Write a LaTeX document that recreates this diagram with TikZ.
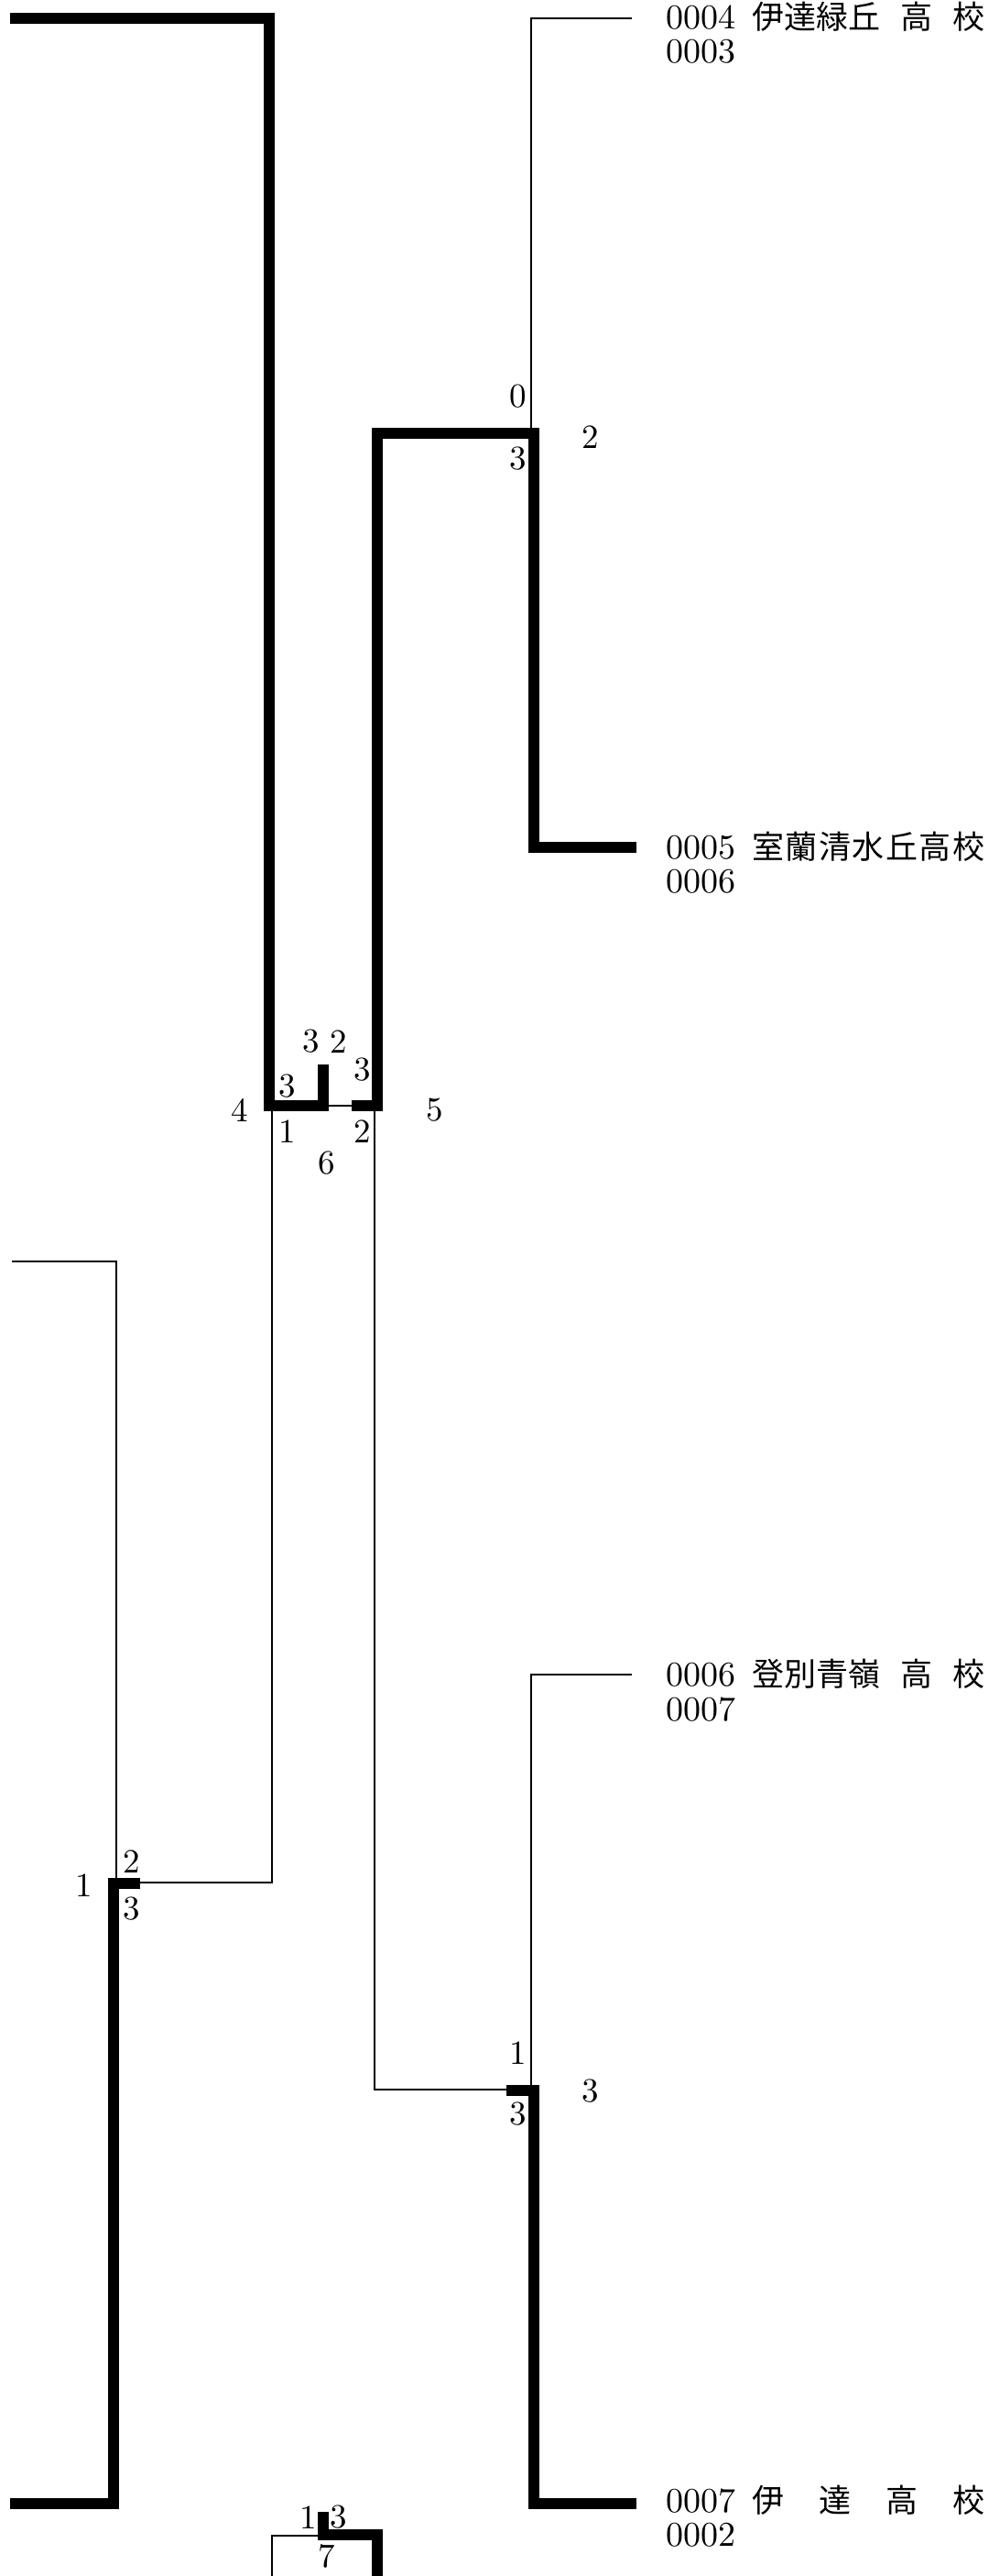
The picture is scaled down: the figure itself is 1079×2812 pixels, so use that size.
\documentclass[tikz,border=0pt]{standalone}
\usepackage{fontspec}
\setmainfont{lmroman10-regular}[Extension=.otf]
\newfontfamily\cjk{Noto Sans CJK JP}
\begin{document}
\begin{tikzpicture}[x=1pt,y=-1pt,
  thickln/.style={line width=12pt,line cap=butt,line join=miter},
  thinln/.style={line width=2pt,line cap=butt,line join=miter},
  lbl/.style={inner sep=0pt,font=\fontsize{37}{39}\selectfont},
  numtxt/.style={inner sep=0pt,anchor=base west,font=\fontsize{38}{40}\selectfont},
  nametxt/.style={inner sep=0pt,anchor=base west,font=\fontsize{35}{37}\selectfont\cjk}]
\useasboundingbox (0,0) rectangle (1079,2812);
% top-left thick bracket
\draw[thickln] (11,20) -- (294,20) -- (294,1207) -- (353,1207) -- (353,1162);
\draw[thinln] (353,1207) -- (384,1207);
\draw[thickln] (384,1207) -- (412,1207) -- (412,473) -- (583,473) -- (583,925) -- (695,925);
\draw[thinln] (690,20) -- (580,20) -- (580,473);
% left middle
\draw[thinln] (13,1377) -- (127,1377) -- (127,2056);
\draw[thinln] (297,1207) -- (297,2055) -- (153,2055);
\draw[thickln] (153,2056) -- (124,2056) -- (124,2733) -- (11,2733);
% right lower
\draw[thinln] (690,1828) -- (580,1828) -- (580,2282);
\draw[thinln] (409,1207) -- (409,2281) -- (553,2281);
\draw[thickln] (553,2282) -- (583,2282) -- (583,2733) -- (695,2733);
% bottom
\draw[thickln] (353,2742) -- (353,2767) -- (412,2767) -- (412,2812);
\draw[thinln] (353,2768) -- (297,2768) -- (297,2812);
% team texts
\node[numtxt] (n1) at (727,32) {0004};
\node[nametxt] (t1) at (821,32) {\makebox[254pt][s]{伊達緑丘\hfill 高\hfill 校}};
\node[numtxt] (m1) at (727,69) {0003};
\node[numtxt] (n2) at (727,937) {0005};
\node[nametxt] (t2) at (821,937) {\makebox[254pt][s]{室\hfill 蘭\hfill 清\hfill 水\hfill 丘\hfill 高\hfill 校}};
\node[numtxt] (m2) at (727,974) {0006};
\node[numtxt] (n3) at (727,1840) {0006};
\node[nametxt] (t3) at (821,1840) {\makebox[254pt][s]{登別青嶺\hfill 高\hfill 校}};
\node[numtxt] (m3) at (727,1878) {0007};
\node[numtxt] (n4) at (727,2742) {0007};
\node[nametxt] (t4) at (821,2742) {\makebox[254pt][s]{伊\hfill 達\hfill 高\hfill 校}};
\node[numtxt] (m4) at (727,2779) {0002};
% score labels
\node[lbl] (a1) at (566,433) {0};
\node[lbl] (a2) at (566,501) {3};
\node[lbl] (a3) at (645,477) {2};
\node[lbl] (b1) at (340,1137) {3};
\node[lbl] (b2) at (370,1137) {2};
\node[lbl] (b3) at (314,1186) {3};
\node[lbl] (b4) at (396,1168) {3};
\node[lbl] (b5) at (262,1212) {4};
\node[lbl] (b6) at (314,1235) {1};
\node[lbl] (b7) at (396,1235) {2};
\node[lbl] (b8) at (357,1270) {6};
\node[lbl] (b9) at (475,1212) {5};
\node[lbl] (c1) at (92,2058) {1};
\node[lbl] (c2) at (144,2032) {2};
\node[lbl] (c3) at (144,2084) {3};
\node[lbl] (d1) at (566,2241) {1};
\node[lbl] (d2) at (566,2308) {3};
\node[lbl] (d3) at (645,2283) {3};
\node[lbl] (e1) at (337,2748) {1};
\node[lbl] (e2) at (370,2748) {3};
\node[lbl] (e3) at (357,2790) {7};
\end{tikzpicture}
\end{document}
